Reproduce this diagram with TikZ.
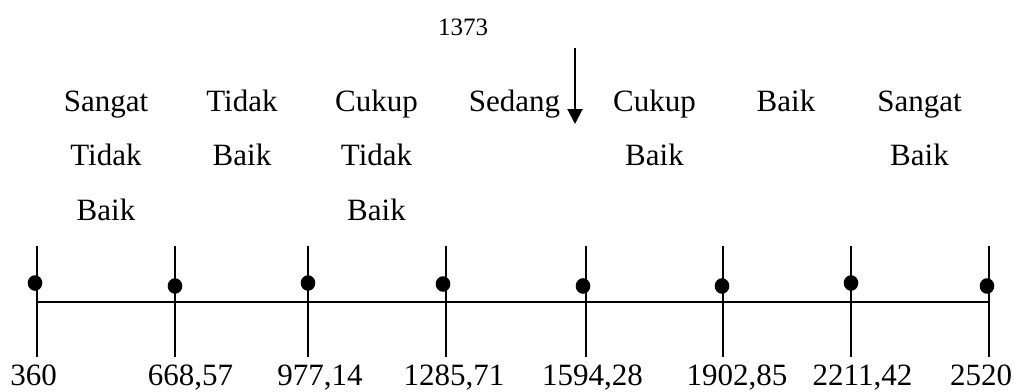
\documentclass[tikz,border=0pt]{standalone}
\usepackage{fontspec}
\setmainfont{Liberation Serif}
\usetikzlibrary{arrows.meta,shapes.geometric}
\begin{document}
\begin{tikzpicture}[x=1pt,y=-1pt,
  lbl/.style={anchor=base,inner sep=0pt,font=\fontsize{31}{31}\selectfont},
  small/.style={anchor=base,inner sep=0pt,font=\fontsize{25}{25}\selectfont},
  dot/.style={ellipse,fill=black,inner sep=0pt,minimum width=14.6pt,minimum height=15.6pt},
  tick/.style={line width=2pt},
  axis/.style={line width=2pt}]
\useasboundingbox (0,0) rectangle (1014,391);
% tick coordinates
\foreach \i/\x in {1/37,2/175,3/308,4/446,5/586,6/723,7/851,8/989}{
  \coordinate (t\i) at (\x,246);
  \coordinate (b\i) at (\x,357);
}
\coordinate (h1) at (37,302);
\coordinate (h8) at (989,302);
\foreach \i in {1,...,8}{\draw[tick] (t\i) -- (b\i);}
\draw[axis] (h1) -- (h8);
% dots
\foreach \i/\x/\y in {1/35/283,2/175/286,3/308/283,4/443/284,5/583/286,6/722/286,7/851/283,8/987/286}{
  \node[dot] (d\i) at (\x,\y) {};
}
% bottom labels
\node[lbl] (v1) at (33.5,385) {360};
\node[lbl] (v2) at (190.5,385) {668,57};
\node[lbl] (v3) at (320,385) {977,14};
\node[lbl] (v4) at (454,385) {1285,71};
\node[lbl] (v5) at (592.5,385) {1594,28};
\node[lbl] (v6) at (737,385) {1902,85};
\node[lbl] (v7) at (862.5,385) {2211,42};
\node[lbl] (v8) at (981,385) {2520};
% category labels
\node[lbl] (c1a) at (106,111) {Sangat};
\node[lbl] (c1b) at (106,165) {Tidak};
\node[lbl] (c1c) at (106,220) {Baik};
\node[lbl] (c2a) at (242,111) {Tidak};
\node[lbl] (c2b) at (242,165) {Baik};
\node[lbl] (c3a) at (376.5,111) {Cukup};
\node[lbl] (c3b) at (376.5,165) {Tidak};
\node[lbl] (c3c) at (376.5,220) {Baik};
\node[lbl] (c4a) at (514.5,111) {Sedang};
\node[lbl] (c5a) at (654.5,111) {Cukup};
\node[lbl] (c5b) at (654.5,165) {Baik};
\node[lbl] (c6a) at (786,111) {Baik};
\node[lbl] (c7a) at (919.5,111) {Sangat};
\node[lbl] (c7b) at (919.5,165) {Baik};
% value marker
\node[small] (val) at (463,35) {1373};
\coordinate (a1) at (575,48);
\coordinate (a2) at (575,124);
\draw[line width=2pt,-{Triangle[width=15pt,length=15pt]}] (a1) -- (a2);
\end{tikzpicture}
\end{document}
